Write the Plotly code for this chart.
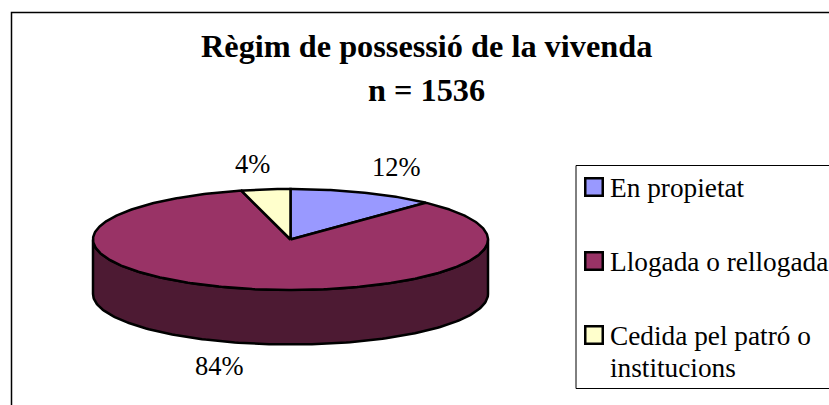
import numpy as np
import plotly.graph_objects as go

categories = ["En propietat", "Llogada o rellogada", "Cedida pel patró o", "institucions"]
legend_names = ["En propietat", "Llogada o rellogada", "Cedida pel patró o institucions"]
values = [12, 84, 4]
labels = ["12%", "84%", "4%"]
top_colors = ["#9999FF", "#993366", "#FFFFCC"]
wall_color = "#4D1A33"

W, H = 829, 405
CX, CY, RX, RY, DEPTH = 290.5, 239.5, 197.5, 50.5, 54.5

shares = np.array(values, dtype=float) / sum(values)
ends = np.cumsum(shares) * 2 * np.pi
starts = ends - shares * 2 * np.pi


def ex(t):
    return CX + RX * np.sin(t)


def ey(t, drop=0.0):
    return CY - RY * np.cos(t) + drop


fig = go.Figure()

tw = np.linspace(np.pi / 2, 3 * np.pi / 2, 160)
fig.add_trace(go.Scatter(
    x=np.r_[ex(tw), ex(tw[::-1]), ex(tw[0])],
    y=np.r_[ey(tw), ey(tw[::-1], DEPTH), ey(tw[0])],
    mode="lines", fill="toself", fillcolor=wall_color,
    line=dict(color="black", width=2.5), showlegend=False, hoverinfo="skip"))

for name, a, b, col, val in zip(legend_names, starts, ends, top_colors, values):
    t = np.linspace(a, b, max(8, int((b - a) * 80)))
    fig.add_trace(go.Scatter(
        x=np.r_[CX, ex(t), CX], y=np.r_[CY, ey(t), CY],
        mode="lines", fill="toself", fillcolor=col,
        line=dict(color="black", width=2.5), name=name, showlegend=False,
        hovertemplate=f"{name}: {val}%<extra></extra>"))

LEG_X, LEG_Y = [594, 594, 594], [187, 261, 335]
fig.add_trace(go.Scatter(
    x=LEG_X, y=LEG_Y, mode="markers",
    marker=dict(symbol="square", size=17.5, color=top_colors, line=dict(color="black", width=2.5)),
    showlegend=False, hoverinfo="skip"))

shapes = [
    dict(type="rect", xref="x", yref="y", x0=11.5, y0=12.5, x1=840, y1=420, line=dict(color="black", width=1.5), layer="below"),
    dict(type="rect", xref="x", yref="y", x0=576, y0=165.5, x1=840, y1=388.5, line=dict(color="black", width=1), fillcolor="white", layer="below"),
]
FONT = "Liberation Serif"
ann = [
    dict(x=426, y=46, text="<b>Règim de possessió de la vivenda</b>", font=dict(size=32.3)),
    dict(x=426, y=90, text="<b>n = 1536</b>", font=dict(size=32.3)),
]
for s, (px, py) in zip(labels, [(396, 167), (219, 366), (252.5, 163.5)]):
    ann.append(dict(x=px, y=py, text=s, font=dict(size=26.5)))
for name, yy in zip(categories, [187.5, 261.5, 335.5, 367.5]):
    ann.append(dict(x=608, y=yy, text=name, xanchor="left", align="left", font=dict(size=27.3)))
for a in ann:
    a.update(xref="x", yref="y", showarrow=False)
    a["font"] = dict(family=FONT, color="black", size=a["font"]["size"])

fig.update_layout(
    width=W, height=H, margin=dict(l=0, r=0, t=0, b=0), autosize=False,
    paper_bgcolor="white", plot_bgcolor="white", showlegend=False,
    xaxis=dict(range=[0, W], visible=False, fixedrange=True),
    yaxis=dict(range=[H, 0], visible=False, fixedrange=True),
    shapes=shapes, annotations=ann)
fig.write_html("out.html", config=dict(displayModeBar=False),
               post_script="document.body.style.margin='0';document.body.style.overflow='hidden';")
